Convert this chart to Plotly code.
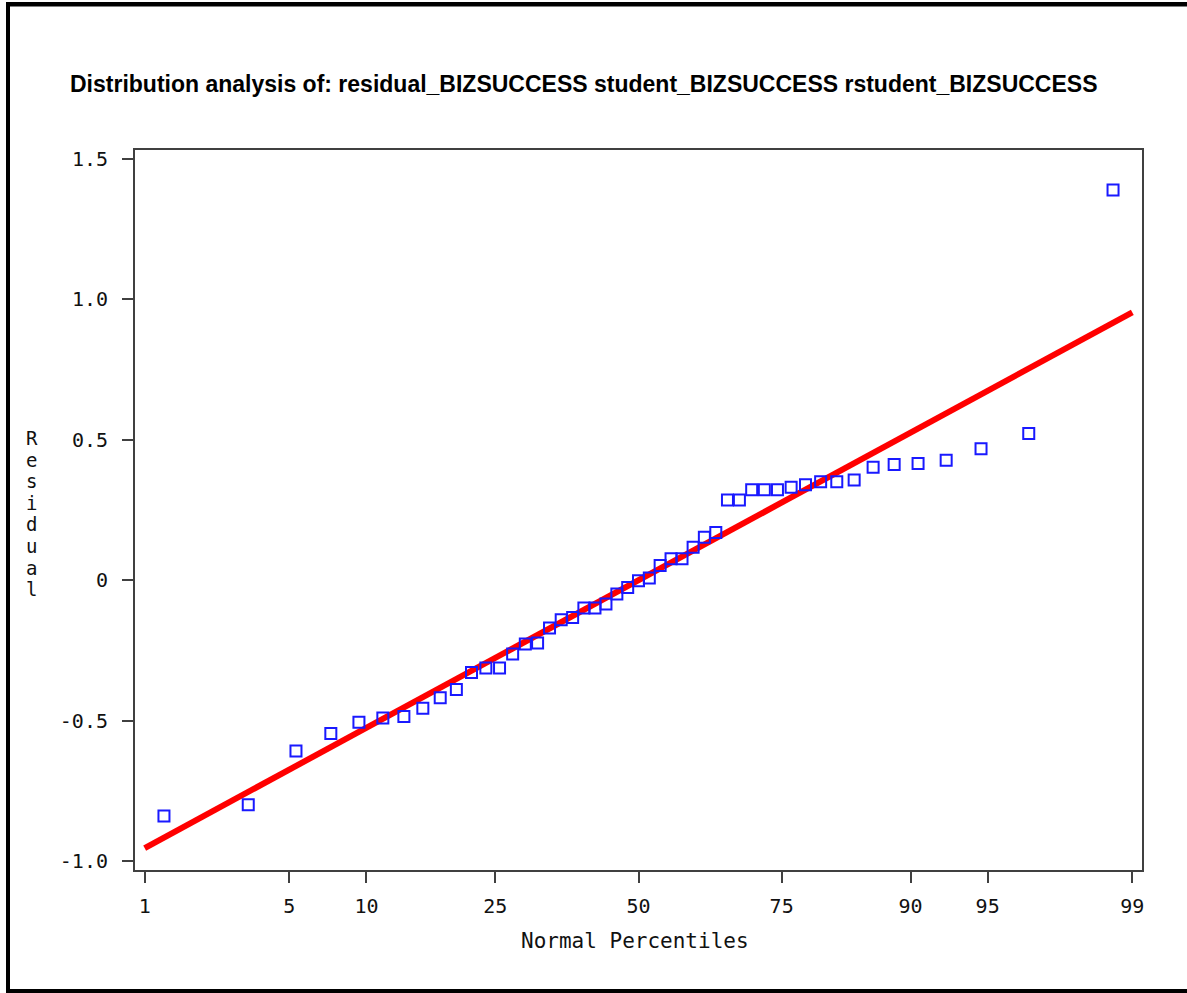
from statistics import NormalDist
import plotly.graph_objects as go

# Residuals of the BIZSUCCESS regression, sorted ascending
residuals = [
    -0.840, -0.800, -0.608, -0.546, -0.506, -0.491, -0.485, -0.456, -0.419, -0.389,
    -0.329, -0.313, -0.313, -0.263, -0.227, -0.224, -0.170, -0.141, -0.133, -0.099,
    -0.099, -0.085, -0.049, -0.026, -0.002, 0.008, 0.052, 0.076, 0.076, 0.117,
    0.153, 0.170, 0.286, 0.286, 0.322, 0.322, 0.322, 0.331, 0.340, 0.351,
    0.351, 0.357, 0.402, 0.412, 0.416, 0.427, 0.468, 0.522, 1.390,
]

# Fitted normal reference line (location and scale)
line_mu = 0.0
line_sigma = 0.41

# Percentile axis ticks
pct_ticks = [1, 5, 10, 25, 50, 75, 90, 95, 99]
pct_labels = ["1", "5", "10", "25", "50", "75", "90", "95", "99"]

# Residual axis ticks
res_ticks = [1.5, 1.0, 0.5, 0.0, -0.5, -1.0]
res_labels = ["1.5", "1.0", "0.5", "0", "-0.5", "-1.0"]

title_text = ("Distribution analysis of: residual_BIZSUCCESS "
              "student_BIZSUCCESS rstudent_BIZSUCCESS")
xlabel_text = "Normal Percentiles"
ylabel_text = "Residual"

nd = NormalDist()
n = len(residuals)
# Blom plotting positions -> normal quantiles
normal_scores = [nd.inv_cdf((i + 1 - 0.375) / (n + 0.25)) for i in range(n)]

tick_z = [nd.inv_cdf(p / 100.0) for p in pct_ticks]
line_x = [tick_z[0], tick_z[-1]]
line_y = [line_mu + line_sigma * z for z in line_x]

W, H = 1187, 993
L, R, T, B = 135, 45, 150, 123
PW, PH = W - L - R, H - T - B
MONO = "DejaVu Sans Mono"


def px_x(px):
    return (px - L) / PW


def px_y(py):
    return (H - B - py) / PH


fig = go.Figure()

fig.add_trace(go.Scatter(
    x=line_x, y=line_y, mode="lines",
    line=dict(color="#ff0000", width=6),
    hoverinfo="skip", showlegend=False,
))

fig.add_trace(go.Scatter(
    x=normal_scores, y=residuals, mode="markers",
    marker=dict(symbol="square-open", size=11,
                color="rgb(25,25,255)", line=dict(width=2, color="rgb(25,25,255)")),
    showlegend=False,
))

axis_common = dict(
    showgrid=False, zeroline=False,
    showline=True, linecolor="#404040", linewidth=2, mirror=True,
    ticks="outside", ticklen=11, tickwidth=2, tickcolor="#404040",
    tickfont=dict(family=MONO, size=20, color="#111111"),
)

fig.update_xaxes(
    range=[-2.372, 2.372],
    tickmode="array", tickvals=tick_z, ticktext=pct_labels,
    ticklabelstandoff=6,
    **axis_common,
)
fig.update_yaxes(
    range=[-1.032, 1.532],
    tickmode="array", tickvals=res_ticks, ticktext=res_labels,
    ticklabelstandoff=10,
    **axis_common,
)

annotations = [
    dict(text=title_text, xref="paper", yref="paper",
         x=px_x(583.5), y=px_y(84), xanchor="center", yanchor="middle",
         showarrow=False,
         font=dict(family="Liberation Sans", size=23, color="#000000", weight="bold")),
    dict(text=xlabel_text, xref="paper", yref="paper",
         x=px_x(634.5), y=px_y(941), xanchor="center", yanchor="middle",
         showarrow=False,
         font=dict(family=MONO, size=21, color="#111111")),
]
# Vertical axis label, one stacked letter per row
for k, ch in enumerate(ylabel_text):
    annotations.append(dict(
        text=ch, xref="paper", yref="paper",
        x=px_x(31.5), y=px_y(438 + 21.6 * k), xanchor="center", yanchor="middle",
        showarrow=False,
        font=dict(family=MONO, size=19, color="#111111"),
    ))

# Outer page frame (left, top, bottom edges)
frame = dict(type="rect", xref="paper", yref="paper", line=dict(width=0),
             fillcolor="#000000", layer="above")
shapes = [
    dict(frame, x0=px_x(6), x1=px_x(10), y0=px_y(2), y1=px_y(993)),
    dict(frame, x0=px_x(6), x1=px_x(1187), y0=px_y(2), y1=px_y(6.5)),
    dict(frame, x0=px_x(6), x1=px_x(1187), y0=px_y(989), y1=px_y(993)),
]

fig.update_layout(
    width=W, height=H,
    margin=dict(l=L, r=R, t=T, b=B),
    paper_bgcolor="#ffffff", plot_bgcolor="#ffffff",
    annotations=annotations, shapes=shapes,
    showlegend=False,
)

fig.write_html("out.html")
